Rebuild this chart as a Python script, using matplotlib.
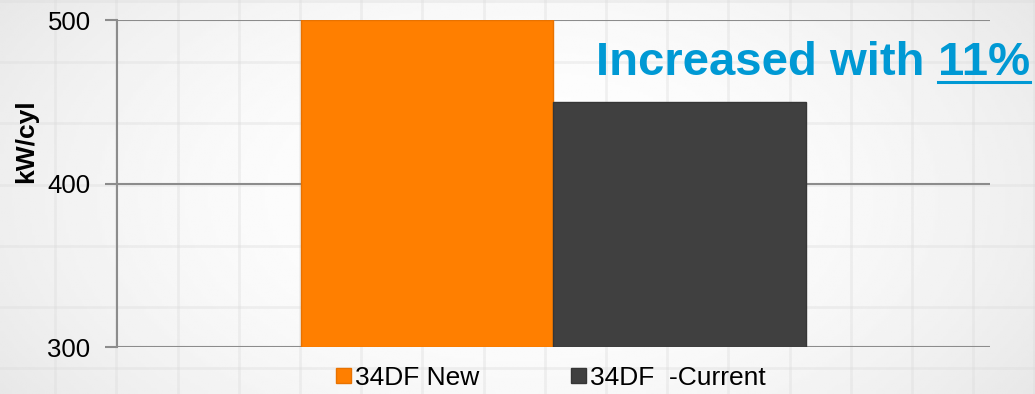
import numpy as np
import matplotlib
matplotlib.use('Agg')
import matplotlib.pyplot as plt
from matplotlib.lines import Line2D

plt.rcParams['font.family'] = ['Liberation Sans', 'DejaVu Sans']

# data
series = ['34DF New', '34DF  -Current']
values = [500, 450]
colors = ['#ff7f00', '#404040']
edge_colors = ['#e87200', '#363636']
yticks = [300, 400, 500]

fig = plt.figure(figsize=(10.35, 3.94), dpi=100)

# slide background: soft radial gradient + faint square grid
bg = fig.add_axes([0, 0, 1, 1], zorder=-10)
gx, gy = np.meshgrid(np.linspace(-1, 1, 400), np.linspace(-1, 1, 160))
r = np.sqrt((gx * 0.85) ** 2 + (gy * 0.55) ** 2)
shade = 1.0 - 0.09 * np.clip(r, 0, 1.3) ** 2
bg.imshow(shade, cmap='gray', vmin=0, vmax=1, extent=[0, 1035, 394, 0], aspect='auto')
for xv in np.arange(-6, 1035, 61.2):
    bg.axvline(xv, color='#dadada', lw=2.0, alpha=0.35)
for yv in np.arange(1, 394, 61.2):
    bg.axhline(yv, color='#dadada', lw=2.0, alpha=0.35)
bg.set_xlim(0, 1035)
bg.set_ylim(394, 0)
bg.axis('off')

ax = fig.add_axes([0.113, 0.119, 0.8435, 0.830])
ax.patch.set_alpha(0)

width = 0.289
offsets = [-width / 2, width / 2]
for name, val, c, ec, off in zip(series, values, colors, edge_colors, offsets):
    ax.bar(off, val - 300, bottom=300, width=width, color=c, edgecolor=ec,
           linewidth=1, label=name, zorder=3)

ax.set_xlim(-0.5, 0.5)
ax.set_ylim(300, 500)
ax.set_yticks(yticks)
ax.set_xticks([])
ax.yaxis.grid(True, color='#8c8c8c', linewidth=1.5, zorder=0)
for s in ['top', 'right', 'bottom']:
    ax.spines[s].set_visible(False)
ax.spines['left'].set_color('#8c8c8c')
ax.spines['left'].set_linewidth(1.5)
ax.tick_params(axis='y', length=9, width=1.5, color='#8c8c8c', labelsize=18.5, pad=10)
ax.set_ylabel('kW/cyl', fontsize=19, fontweight='bold')
ax.yaxis.set_label_coords(-0.09, 0.63)

leg = ax.legend(loc='upper center', bbox_to_anchor=(0.497, -0.025), ncol=2, frameon=False,
                fontsize=19, handlelength=0.55, handleheight=0.55, handletextpad=0.15,
                columnspacing=3.5, borderaxespad=0)

blue = '#0099d4'
base_y = 1 - 75 / 394
t1 = fig.text(0, base_y, 'Increased with ', fontsize=34, fontweight='bold',
              color=blue, va='baseline', ha='left')
t2 = fig.text(0, base_y, '11%', fontsize=34, fontweight='bold',
              color=blue, va='baseline', ha='left')
fig.canvas.draw()
w1 = t1.get_window_extent().width
w2 = t2.get_window_extent().width
x0 = 1030 - w1 - w2
t1.set_x(x0 / 1035)
t2.set_x((x0 + w1) / 1035)
uy = 1 - 82 / 394
fig.add_artist(Line2D([(x0 + w1) / 1035, 1030 / 1035], [uy, uy], color=blue, lw=2.2,
                      transform=fig.transFigure))

fig.savefig('out.png', dpi=100)
